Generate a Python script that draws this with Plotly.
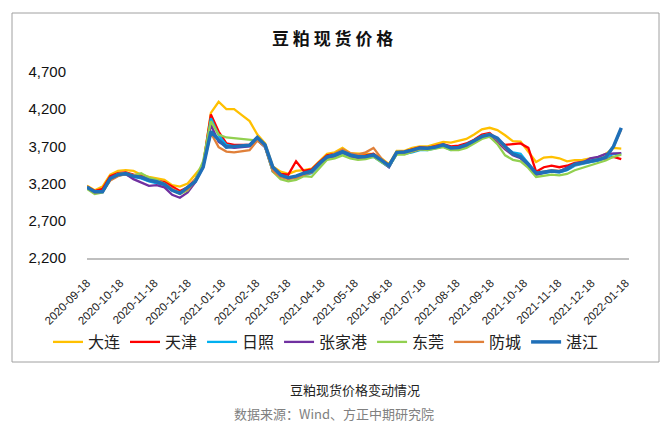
import pandas as pd
import plotly.graph_objects as go

# Weekly sample dates (categories on the time axis)
DATES = pd.date_range(start="2020-09-18", periods=70, freq="7D")

TICK_LABELS = ["2020-09-18", "2020-10-18", "2020-11-18", "2020-12-18", "2021-01-18",
               "2021-02-18", "2021-03-18", "2021-04-18", "2021-05-18", "2021-06-18",
               "2021-07-18", "2021-08-18", "2021-09-18", "2021-10-18", "2021-11-18",
               "2021-12-18", "2022-01-18"]

SERIES_NAMES = ["大连", "天津", "日照", "张家港", "东莞", "防城", "湛江"]

dalian = [3170, 3110, 3160, 3320, 3370, 3380, 3370, 3320, 3290, 3270, 3250, 3180, 3160, 3200, 3330,
          3450, 4150, 4300, 4200, 4200, 4120, 4040, 3860, 3740, 3430, 3360, 3330, 3370, 3380, 3400,
          3500, 3600, 3620, 3680, 3610, 3600, 3600, 3600, 3540, 3460, 3640, 3640, 3680, 3700, 3700,
          3730, 3760, 3750, 3780, 3800, 3860, 3930, 3950, 3920, 3850, 3770, 3765, 3630, 3490, 3550,
          3560, 3540, 3500, 3515, 3520, 3540, 3550, 3600, 3680, 3670]
tianjin = [3160, 3100, 3130, 3300, 3340, 3350, 3320, 3300, 3260, 3245, 3220, 3160, 3100, 3150, 3260,
           3450, 4130, 3900, 3740, 3720, 3720, 3720, 3810, 3700, 3420, 3330, 3320, 3500, 3370, 3390,
           3490, 3580, 3600, 3640, 3590, 3570, 3580, 3600, 3520, 3450, 3620, 3630, 3660, 3690, 3680,
           3700, 3730, 3700, 3710, 3740, 3790, 3860, 3880, 3790, 3720, 3730, 3740, 3680, 3360, 3420,
           3440, 3420, 3440, 3480, 3490, 3510, 3520, 3540, 3560, 3530]
rizhao = [3160, 3080, 3090, 3260, 3310, 3320, 3290, 3270, 3230, 3210, 3180, 3110, 3070, 3120, 3230,
          3440, 4080, 3850, 3720, 3700, 3700, 3710, 3800, 3690, 3360, 3300, 3270, 3280, 3310, 3340,
          3440, 3530, 3560, 3600, 3560, 3540, 3550, 3560, 3490, 3420, 3600, 3600, 3620, 3650, 3650,
          3680, 3700, 3650, 3670, 3700, 3760, 3830, 3850, 3790, 3690, 3620, 3600, 3470, 3320, 3340,
          3360, 3350, 3380, 3440, 3470, 3490, 3510, 3540, 3600, 3600]
zhangjiagang = [3140, 3080, 3100, 3250, 3310, 3330, 3260, 3210, 3170, 3180, 3150, 3050, 3010, 3080, 3220,
                3420, 3990, 3760, 3700, 3680, 3690, 3700, 3780, 3690, 3370, 3300, 3270, 3290, 3330, 3350,
                3460, 3540, 3570, 3620, 3570, 3540, 3540, 3570, 3500, 3420, 3610, 3600, 3630, 3660, 3660,
                3680, 3710, 3670, 3680, 3710, 3760, 3820, 3830, 3760, 3660, 3580, 3540, 3440, 3320, 3350,
                3370, 3360, 3420, 3460, 3480, 3540, 3560, 3600, 3610, 3610]
dongguan = [3130, 3060, 3080, 3250, 3330, 3340, 3310, 3340, 3280, 3250, 3200, 3110, 3060, 3110, 3260,
            3500, 4040, 3860, 3820, 3810, 3800, 3790, 3780, 3700, 3360, 3260, 3230, 3250, 3300, 3290,
            3410, 3520, 3540, 3580, 3540, 3520, 3530, 3560, 3490, 3430, 3590, 3590, 3630, 3660, 3650,
            3670, 3690, 3650, 3650, 3680, 3740, 3800, 3830, 3730, 3580, 3520, 3500, 3410, 3290, 3310,
            3320, 3310, 3330, 3380, 3410, 3440, 3470, 3510, 3560, 3590]
fangcheng = [3150, 3080, 3090, 3240, 3300, 3330, 3310, 3290, 3250, 3230, 3200, 3130, 3080, 3120, 3230,
             3430, 3880, 3690, 3630, 3620, 3630, 3650, 3780, 3700, 3370, 3290, 3260, 3280, 3320, 3350,
             3460, 3560, 3600, 3660, 3610, 3590, 3620, 3680, 3540, 3440, 3620, 3620, 3640, 3670, 3670,
             3690, 3720, 3680, 3680, 3710, 3770, 3840, 3870, 3790, 3680, 3600, 3570, 3450, 3340, 3360,
             3380, 3370, 3400, 3450, 3470, 3490, 3510, 3540, 3700, 3930]
zhanjiang = [3150, 3090, 3090, 3270, 3320, 3335, 3300, 3285, 3245, 3225, 3190, 3110, 3070, 3150, 3230,
             3420, 3900, 3790, 3690, 3700, 3710, 3715, 3820, 3720, 3420, 3315, 3280, 3300, 3340, 3365,
             3470, 3560, 3585, 3630, 3585, 3560, 3565, 3585, 3515, 3440, 3620, 3625, 3650, 3680, 3675,
             3690, 3720, 3680, 3685, 3720, 3775, 3835, 3860, 3810, 3700, 3600, 3560, 3460, 3340, 3355,
             3370, 3360, 3395, 3460, 3480, 3500, 3520, 3555, 3700, 3950]

SERIES_VALUES = [dalian, tianjin, rizhao, zhangjiagang, dongguan, fangcheng, zhanjiang]
COLORS = ["#FFC000", "#FF0000", "#00B0F0", "#7030A0", "#92D050", "#E0803A", "#1F6FB8"]
WIDTHS = [2.3, 2.3, 2.3, 2.3, 2.3, 2.3, 3.5]

fig = go.Figure()
for name, vals, col, w in zip(SERIES_NAMES, SERIES_VALUES, COLORS, WIDTHS):
    fig.add_trace(go.Scatter(x=DATES, y=vals, name=name, mode="lines",
                             line=dict(color=col, width=w)))

CJK = "Noto Sans CJK SC"
L, R, T, B = 87, 32, 72, 166
W, H = 661, 424
pw, ph = W - L - R, H - T - B

def px(x):
    return (x - L) / pw

def py(y):
    return (H - B - y) / ph

fig.update_layout(
    width=W, height=H,
    margin=dict(l=L, r=R, t=T, b=B, autoexpand=False),
    paper_bgcolor="white", plot_bgcolor="white",
    showlegend=True,
    legend=dict(orientation="h", x=px(48), xanchor="left", y=py(342), yanchor="middle",
                font=dict(family=CJK, size=16, color="#222222"),
                bgcolor="rgba(0,0,0,0)", traceorder="normal"),
    xaxis=dict(type="date", range=["2020-09-18", "2022-01-21"],
               tickvals=pd.to_datetime(TICK_LABELS), ticktext=TICK_LABELS,
               tickangle=-45, tickfont=dict(family="Liberation Sans", size=11.5, color="#222222"),
               showgrid=False, zeroline=False, showline=True, linecolor="#BFBFBF", linewidth=1.5,
               ticks="", ticklabelstandoff=12, automargin=False),
    yaxis=dict(range=[2200, 4700], tickvals=[2200, 2700, 3200, 3700, 4200, 4700],
               tickformat=",", tickfont=dict(family="Liberation Sans", size=15, color="#111111"),
               showgrid=False, zeroline=False, showline=False, ticks="", ticklabelstandoff=20,
               automargin=False),
    shapes=[dict(type="rect", xref="paper", yref="paper", x0=px(12), x1=px(659), y0=py(362), y1=py(13),
                 line=dict(color="#A0A0A0", width=1), fillcolor="rgba(0,0,0,0)", layer="below")],
    annotations=[
        dict(text="<b>豆 粕 现 货 价 格</b>", xref="paper", yref="paper", x=px(332), y=py(38),
             xanchor="center", yanchor="middle", showarrow=False,
             font=dict(family=CJK, size=17, color="#111111")),
        dict(text="豆粕现货价格变动情况", xref="paper", yref="paper", x=px(355), y=py(389),
             xanchor="center", yanchor="middle", showarrow=False,
             font=dict(family=CJK, size=13, color="#222222")),
        dict(text="数据来源：Wind、方正中期研究院", xref="paper", yref="paper", x=px(334), y=py(413),
             xanchor="center", yanchor="middle", showarrow=False,
             font=dict(family=CJK, size=13, color="#808080")),
    ],
)

fig.write_html("out.html", config={"displayModeBar": False},
               post_script="document.body.style.margin='0px';")
